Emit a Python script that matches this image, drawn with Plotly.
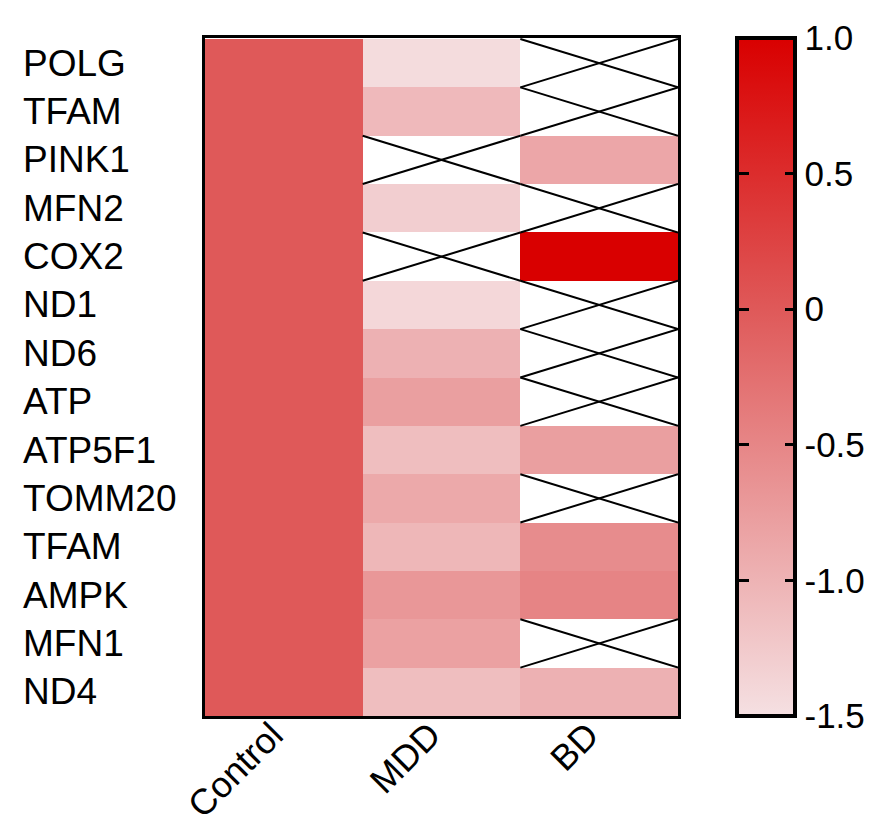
import plotly.graph_objects as go
import numpy as np

genes = ["POLG", "TFAM", "PINK1", "MFN2", "COX2", "ND1", "ND6", "ATP",
         "ATP5F1", "TOMM20", "TFAM", "AMPK", "MFN1", "ND4"]
groups = ["Control", "MDD", "BD"]
nan = None
control = [0.0] * 14
mdd = [-1.45, -1.07, nan, -1.30, nan, -1.40, -0.98, -0.78, -1.12, -0.89, -1.04, -0.69, -0.80, -1.12]
bd = [nan, nan, -0.86, nan, 1.0, nan, nan, nan, -0.78, nan, -0.57, -0.48, nan, -0.98]
cbar_vals = [1.0, 0.5, 0, -0.5, -1.0, -1.5]
cbar_text = ["1.0", "0.5", "0", "-0.5", "-1.0", "-1.5"]

zmin, zmax = -1.5, 1.0
W, H = 877, 814
L, R, T, B = 197, 207, 30, 106
pw, ph = W - L - R, H - T - B

cols = [control, mdd, bd]
z = [[cols[c][r] if cols[c][r] is not None else np.nan for c in range(3)] for r in range(14)]
rows = list(range(len(genes)))

FONT = "Arial, Liberation Sans, sans-serif"
CB_X0 = 729
CB_TH = 58
TICK = 12

fig = go.Figure(go.Heatmap(
    z=z, x=list(range(3)), y=rows, zmin=zmin, zmax=zmax,
    colorscale=[[0, "rgb(245,224,226)"], [0.6, "rgb(223,89,89)"], [1, "rgb(217,0,0)"]],
    hoverongaps=False,
    colorbar=dict(
        x=(CB_X0 - L) / pw, xanchor="left", xpad=0, y=0.5, yanchor="middle", ypad=0,
        len=1, lenmode="fraction", thickness=CB_TH, outlinewidth=4, outlinecolor="black",
        tickvals=cbar_vals, ticktext=cbar_text, ticks="inside", ticklen=TICK, tickwidth=3,
        tickcolor="black", tickfont=dict(family=FONT, size=35, color="black"),
    ),
))

# transparent twin whose scale only supplies the inside ticks on the bar's left edge
fig.add_trace(go.Heatmap(
    z=z, x=list(range(3)), y=rows, zmin=zmin, zmax=zmax,
    colorscale=[[0, "rgba(0,0,0,0)"], [1, "rgba(0,0,0,0)"]], hoverinfo="skip",
    colorbar=dict(
        x=(CB_X0 + TICK - 1 - L) / pw, xanchor="left", xpad=0, y=0.5, yanchor="middle", ypad=0,
        len=1, lenmode="fraction", thickness=1, outlinewidth=0,
        tickvals=cbar_vals[1:-1], showticklabels=False, ticks="inside", ticklen=TICK,
        tickwidth=3, tickcolor="black",
    ),
))

# crosses for missing cells
for c in range(3):
    for r in rows:
        if cols[c][r] is None:
            fig.add_shape(type="line", x0=c - 0.5, x1=c + 0.5, y0=r - 0.5, y1=r + 0.5,
                          line=dict(color="black", width=2))
            fig.add_shape(type="line", x0=c - 0.5, x1=c + 0.5, y0=r + 0.5, y1=r - 0.5,
                          line=dict(color="black", width=2))

# row labels (left aligned)
for r, g in enumerate(genes):
    fig.add_annotation(text=g, x=(13 - L) / pw, xref="paper", xanchor="left",
                       y=r, yref="y", showarrow=False,
                       font=dict(family=FONT, size=37, color="black"))

# column labels (rotated)
for c, g in enumerate(groups):
    fig.add_annotation(text=g, x=c, xref="x", xanchor="right", xshift=10,
                       y=0, yref="paper", yanchor="top", yshift=5, textangle=-45,
                       showarrow=False, font=dict(family=FONT, size=36, color="black"))

fig.update_xaxes(showticklabels=False,
                 showline=True, linecolor="black", linewidth=3, mirror=True,
                 ticks="", showgrid=False, zeroline=False, range=[-0.5, 2.5])
fig.update_yaxes(showticklabels=False, autorange="reversed",
                 showline=True, linecolor="black", linewidth=3, mirror=True,
                 ticks="", showgrid=False, zeroline=False)
fig.update_layout(width=W, height=H, margin=dict(l=L, r=R, t=T, b=B, autoexpand=False),
                  plot_bgcolor="white", paper_bgcolor="white", showlegend=False)
fig.write_html("out.html")
